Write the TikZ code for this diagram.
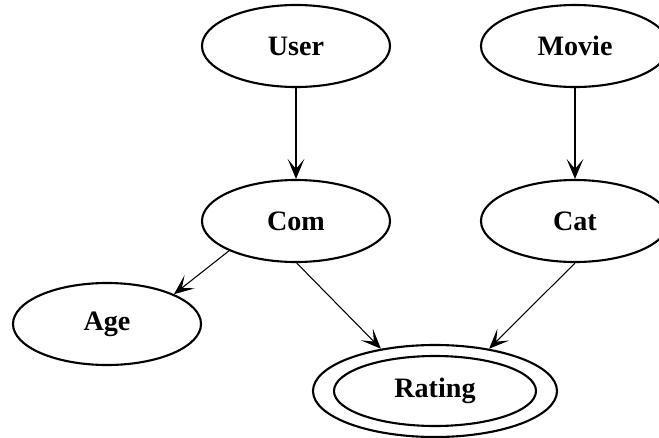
\documentclass[tikz,border=0pt]{standalone}
\usepackage{fontspec}
\setmainfont{Liberation Serif}
\usetikzlibrary{shapes.geometric,arrows.meta}

\begin{document}
\begin{tikzpicture}[
x=0.03cm,y=-0.03cm,
var/.style={draw,ellipse,line width=1.8pt,minimum width=5.64cm,minimum height=2.46cm,inner sep=0pt,font=\fontsize{24}{28}\selectfont\bfseries},
link/.style={-{Stealth[length=6mm,width=5mm,inset=3mm]},line width=0.9pt}
]
\useasboundingbox (0,0) rectangle (659,437);
\node[var] (user) at (296,46) {User};
\node[var] (movie) at (575,46) {Movie};
\node[var] (com) at (296,221) {Com};
\node[var] (cat) at (575,221) {Cat};
\node[var] (age) at (107,324) {Age};
\node[var,minimum width=7.32cm,minimum height=2.76cm] (rating) at (435,391) {Rating};
\draw[line width=1.8pt] (rating.center) ellipse [x radius=3.03cm,y radius=1.05cm];

\draw[link] (user) -- (com);
\draw[link] (movie) -- (cat);
\draw[link] (com.204) -- (age.24);
\draw[link] (com.271) -- (rating.142);
\draw[link] (cat.270) -- (rating.38);
\end{tikzpicture}
\end{document}
